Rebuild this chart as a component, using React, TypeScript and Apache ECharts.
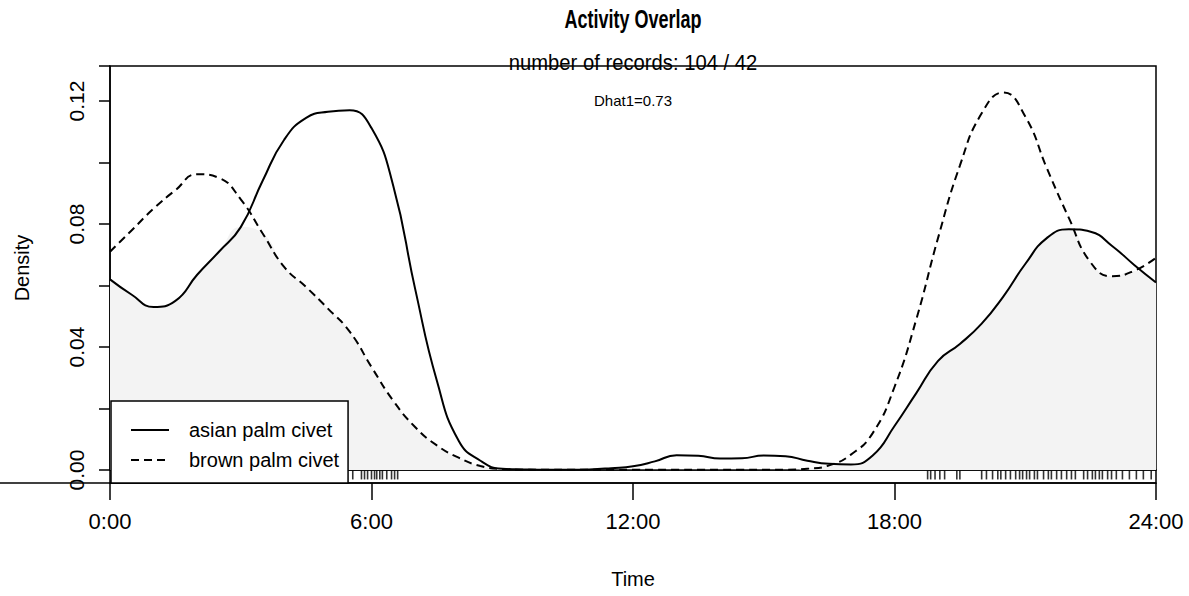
import React, { useEffect, useRef } from "react";
import * as echarts from "echarts";

const hours = [
  0, 0.5, 1, 1.5, 2, 2.5, 3, 3.5, 4, 4.5, 5, 5.5, 6, 6.5, 7, 7.5, 8, 8.5, 9, 9.5,
  10, 10.5, 11, 11.5, 12, 12.5, 13, 13.5, 14, 14.5, 15, 15.5, 16, 16.5, 17, 17.5,
  18, 18.5, 19, 19.5, 20, 20.5, 21, 21.5, 22, 22.5, 23, 23.5, 24,
];

const asianPalmCivet = [
  0.062, 0.057, 0.053, 0.055, 0.0635, 0.071, 0.079, 0.094, 0.1075, 0.1145, 0.1165, 0.117,
  0.1112, 0.0924, 0.059, 0.029, 0.0095, 0.003, 0.0004, 0.0002, 0.0001, 0.0001, 0.0002,
  0.0006, 0.0012, 0.0028, 0.0048, 0.0046, 0.0037, 0.0038, 0.0047, 0.0045, 0.003, 0.002,
  0.0018, 0.0047, 0.0143, 0.025, 0.0355, 0.041, 0.0476, 0.0565, 0.067, 0.0755, 0.0783,
  0.0775, 0.0728, 0.0667, 0.061,
];

const brownPalmCivet = [
  0.071, 0.078, 0.085, 0.091, 0.0962, 0.095, 0.088, 0.077, 0.066, 0.0595, 0.0525, 0.045,
  0.0335, 0.0225, 0.014, 0.008, 0.004, 0.0013, 0.0003, 0.0001, 0.0001, 0.0001, 0.0001,
  0.0001, 0.0001, 0.0001, 0.0001, 0.0001, 0.0001, 0.0001, 0.0001, 0.0001, 0.0004, 0.0015,
  0.005, 0.012, 0.027, 0.049, 0.0755, 0.099, 0.116, 0.1228, 0.115, 0.098, 0.082, 0.0675,
  0.063, 0.0648, 0.069,
];

const rugTimes = [
  5.57, 5.77, 5.84, 5.91, 6.0, 6.07, 6.12, 6.19, 6.25, 6.35, 6.46, 6.53, 6.6,
  18.76, 18.83, 18.93, 19.04, 19.15, 19.43, 19.5, 20.0, 20.11, 20.25, 20.37, 20.44, 20.55,
  20.66, 20.78, 20.87, 20.94, 21.03, 21.1, 21.21, 21.28, 21.42, 21.53, 21.6, 21.72, 21.83,
  21.95, 22.06, 22.15, 22.34, 22.43, 22.54, 22.61, 22.7, 22.77, 22.89, 22.98, 23.09, 23.23,
  23.39, 23.55, 23.71, 23.89,
];

const seriesNames = ["asian palm civet", "brown palm civet"];
const titleText = "Activity Overlap";
const subtitleText = "number of records: 104 / 42";
const overlapText = "Dhat1=0.73";

const SANS = '"Liberation Sans", Arial, sans-serif';

function centeredText(text: string, y: number, size: number, weight: string, scaleX: number) {
  return {
    type: "text",
    x: 633,
    y,
    scaleX,
    z: 20,
    style: {
      text,
      fontFamily: SANS,
      fontSize: size,
      fontWeight: weight,
      fill: "#000",
      align: "center",
      verticalAlign: "middle",
      textAlign: "center",
      textVerticalAlign: "middle",
    },
  };
}

export default function App() {
  const ref = useRef<HTMLDivElement>(null);

  useEffect(() => {
    if (!ref.current) return;
    const chart = echarts.init(ref.current, null, { renderer: "svg" });
    const asianData = hours.map((h, i) => [h, asianPalmCivet[i]]);
    const brownData = hours.map((h, i) => [h, brownPalmCivet[i]]);
    const overlapData = hours.map((h, i) => [h, Math.min(asianPalmCivet[i], brownPalmCivet[i])]);
    const rugData = rugTimes.map((t) => [t, 0.62]);

    chart.setOption({
      animation: false,
      backgroundColor: "#fff",
      legend: {
        data: seriesNames,
        orient: "vertical",
        left: 111,
        top: 401,
        itemWidth: 38,
        itemHeight: 14,
        itemGap: 8,
        padding: [18, 9, 12, 19],
        backgroundColor: "#fff",
        borderColor: "#000",
        borderWidth: 1.5,
        borderRadius: 0,
        itemStyle: { color: "rgba(0,0,0,0)", borderColor: "rgba(0,0,0,0)", borderWidth: 0 },
        textStyle: { fontFamily: SANS, fontSize: 20, lineHeight: 22, color: "#000", padding: [0, 0, 0, 15] },
      },
      grid: [
        {
          left: 110,
          right: 33,
          top: 66,
          height: 404,
          show: true,
          borderColor: "#000",
          borderWidth: 1.5,
          backgroundColor: "transparent",
        },
        {
          left: 110,
          right: 33,
          top: 470,
          height: 13,
          show: true,
          borderColor: "#000",
          borderWidth: 1.5,
          backgroundColor: "transparent",
        },
      ],
      xAxis: [
        { gridIndex: 0, type: "value", min: 0, max: 24, show: false },
        {
          gridIndex: 1,
          type: "value",
          min: 0,
          max: 24,
          interval: 6,
          axisLine: { show: true, lineStyle: { color: "#000", width: 1.5 } },
          axisTick: { show: true, length: 17, lineStyle: { color: "#000", width: 1.5 } },
          axisLabel: {
            margin: 27,
            fontSize: 22,
            fontFamily: SANS,
            color: "#000",
            formatter: (v: number) => `${v}:00`,
          },
          splitLine: { show: false },
          name: "Time",
          nameLocation: "middle",
          nameGap: 86,
          nameTextStyle: { fontSize: 20, fontFamily: SANS, color: "#000" },
        },
      ],
      yAxis: [
        {
          gridIndex: 0,
          type: "value",
          min: 0,
          max: 0.1314,
          interval: 0.02,
          axisLine: { show: true, lineStyle: { color: "#000", width: 1.5 } },
          axisTick: { show: true, length: 11, lineStyle: { color: "#000", width: 1.5 } },
          axisLabel: {
            rotate: 90,
            margin: 23,
            fontSize: 21,
            fontFamily: SANS,
            color: "#000",
            formatter: (v: number) => {
              const k = Math.round(v / 0.02);
              return Math.abs(v - k * 0.02) < 1e-6 && k % 2 === 0 ? v.toFixed(2) : "";
            },
          },
          splitLine: { show: false },
          name: "Density",
          nameLocation: "middle",
          nameGap: 78,
          nameTextStyle: { fontSize: 20, fontFamily: SANS, color: "#000" },
        },
        { gridIndex: 1, type: "value", min: 0, max: 1, show: false },
      ],
      graphic: [
        centeredText(titleText, 19, 25, "bold", 0.72),
        centeredText(subtitleText, 62, 22, "normal", 0.92),
        centeredText(overlapText, 100, 15, "normal", 1),
        {
          type: "line",
          shape: { x1: 0, y1: 483, x2: 110, y2: 483 },
          style: { stroke: "#000", lineWidth: 1.5 },
          z: 10,
        },
      ],
      series: [
        {
          type: "line",
          xAxisIndex: 0,
          yAxisIndex: 0,
          data: overlapData,
          smooth: 0.5,
          symbol: "none",
          silent: true,
          lineStyle: { width: 0, opacity: 0 },
          areaStyle: { color: "#f3f3f3", opacity: 1 },
          z: 1,
        },
        {
          name: seriesNames[0],
          type: "line",
          xAxisIndex: 0,
          yAxisIndex: 0,
          data: asianData,
          smooth: 0.5,
          symbol: "none",
          lineStyle: { color: "#000", width: 2, type: "solid" },
          itemStyle: { color: "#000" },
          z: 3,
        },
        {
          name: seriesNames[1],
          type: "line",
          xAxisIndex: 0,
          yAxisIndex: 0,
          data: brownData,
          smooth: 0.5,
          symbol: "none",
          lineStyle: { color: "#000", width: 2, type: [8, 5] },
          itemStyle: { color: "#000" },
          z: 3,
        },
        {
          type: "scatter",
          xAxisIndex: 1,
          yAxisIndex: 1,
          data: rugData,
          symbol: "rect",
          symbolSize: [1.6, 9],
          itemStyle: { color: "#000" },
          silent: true,
          z: 3,
        },
      ],
    });

    return () => chart.dispose();
  }, []);

  return (
    <div
      ref={ref}
      style={{ position: "fixed", left: 0, top: 0, width: 1189, height: 596, background: "#fff" }}
    />
  );
}
